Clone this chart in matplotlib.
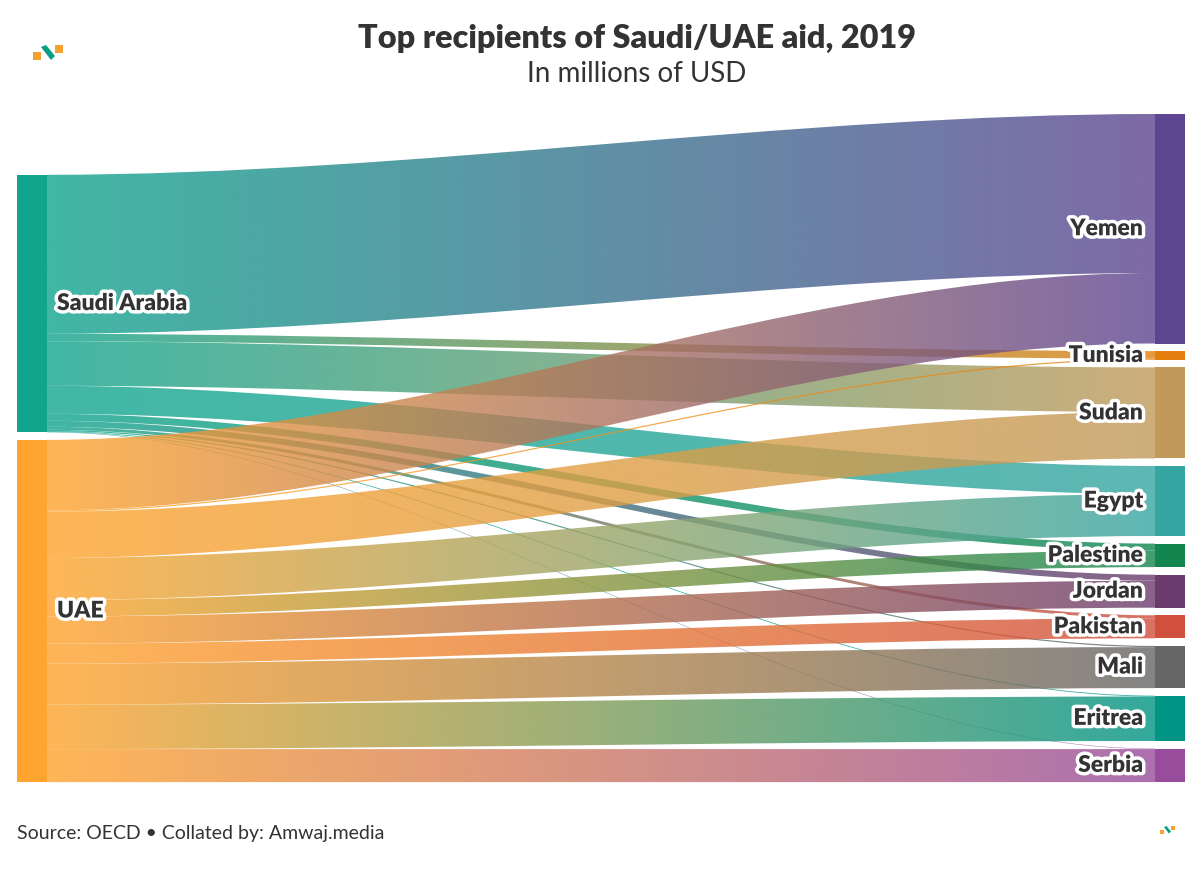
import numpy as np
import matplotlib.pyplot as plt
from matplotlib.path import Path
from matplotlib.patches import PathPatch, Rectangle, Polygon
from matplotlib.colors import to_rgb
import matplotlib.patheffects as pe

plt.rcParams['font.family'] = ['Lato', 'DejaVu Sans']

# aid in millions of USD
sources = ['Saudi Arabia', 'UAE']
targets = ['Yemen', 'Tunisia', 'Sudan', 'Egypt', 'Palestine', 'Jordan',
           'Pakistan', 'Mali', 'Eritrea', 'Serbia']
saudi_aid = [1590, 75, 445, 280, 70, 60, 30, 12, 8, 5]
uae_aid = [705, 12, 465, 420, 165, 270, 200, 410, 445, 330]

source_colors = ['#12a58e', '#ffa42e']
target_colors = ['#5d4591', '#e5800e', '#c19a5a', '#36a6a2', '#13864f',
                 '#6b3b6d', '#d14f3d', '#666666', '#009485', '#984c9c']

flows = np.array([saudi_aid, uae_aid], dtype=float)

# layout in pixels of the 1200x869 canvas
W, H = 1200, 869
scale = 0.1          # px per million USD
gap = 7.6
node_w = 30
left_x = 17
right_x = 1155
right_top = 114
curve = 0.33
link_alpha = 0.8
text_col = '#333333'

fig = plt.figure(figsize=(W / 100, H / 100), dpi=100)
ax = fig.add_axes([0, 0, 1, 1])
ax.set_xlim(0, W)
ax.set_ylim(H, 0)
ax.axis('off')

# node positions
tgt_tot = flows.sum(axis=0)
src_tot = flows.sum(axis=1)
tgt_y = []
y = right_top
for t in tgt_tot:
    tgt_y.append(y)
    y += t * scale + gap
bottom = tgt_y[-1] + tgt_tot[-1] * scale
src_y = []
y = bottom - (src_tot.sum() * scale + gap * (len(sources) - 1))
for s in src_tot:
    src_y.append(y)
    y += s * scale + gap

# links
src_off = list(src_y)
tgt_off = list(tgt_y)
x0 = left_x + node_w
x1 = right_x
cv = (x1 - x0) * curve
for i in range(len(sources)):
    for j in range(len(targets)):
        h = flows[i, j] * scale
        ys, yt = src_off[i], tgt_off[j]
        src_off[i] += h
        tgt_off[j] += h
        verts = [(x0, ys), (x0 + cv, ys), (x1 - cv, yt), (x1, yt),
                 (x1, yt + h),
                 (x1 - cv, yt + h), (x0 + cv, ys + h), (x0, ys + h),
                 (x0, ys)]
        codes = [Path.MOVETO, Path.CURVE4, Path.CURVE4, Path.CURVE4,
                 Path.LINETO,
                 Path.CURVE4, Path.CURVE4, Path.CURVE4,
                 Path.CLOSEPOLY]
        patch = PathPatch(Path(verts, codes), fc='none', ec='none', zorder=2)
        ax.add_patch(patch)
        c0 = np.array(to_rgb(source_colors[i]))
        c1 = np.array(to_rgb(target_colors[j]))
        tt = np.linspace(0, 1, 256)[:, None]
        grad = np.ones((1, 256, 4))
        grad[0, :, :3] = c0 * (1 - tt) + c1 * tt
        grad[0, :, 3] = link_alpha
        ymin = min(ys, yt) - 1
        ymax = max(ys, yt) + h + 1
        im = ax.imshow(grad, extent=(x0, x1, ymax, ymin), aspect='auto',
                       interpolation='bilinear', zorder=1)
        im.set_clip_path(patch)

ax.set_xlim(0, W)
ax.set_ylim(H, 0)

stroke = [pe.withStroke(linewidth=5, foreground='white')]

# nodes and labels
for i, name in enumerate(sources):
    hgt = src_tot[i] * scale
    ax.add_patch(Rectangle((left_x, src_y[i]), node_w, hgt, fc=source_colors[i], ec='none', zorder=3))
    ax.text(left_x + node_w + 10, src_y[i] + hgt / 2, name, ha='left', va='center',
            fontsize=16.5, fontweight='heavy', color=text_col, path_effects=stroke, zorder=5)
for j, name in enumerate(targets):
    hgt = tgt_tot[j] * scale
    ax.add_patch(Rectangle((right_x, tgt_y[j]), node_w, hgt, fc=target_colors[j], ec='none', zorder=3))
    ax.text(right_x - 12, tgt_y[j] + hgt / 2, name, ha='right', va='center',
            fontsize=16.5, fontweight='heavy', color=text_col, path_effects=stroke, zorder=5)

# titles
ax.text(637, 38, 'Top recipients of Saudi/UAE aid, 2019', ha='center', va='center',
        fontsize=23.3, fontweight='heavy', color=text_col)
ax.text(637, 74, 'In millions of USD', ha='center', va='center',
        fontsize=20, color=text_col)
ax.text(17, 834, 'Source: OECD \u2022 Collated by: Amwaj.media', ha='left', va='center',
        fontsize=14, color=text_col)


# small logo marks
def logo(x, y, s):
    ax.add_patch(Rectangle((x, y + 7 * s), 8 * s, 8 * s, fc='#f7a130', ec='none'))
    ax.add_patch(Rectangle((x + 22 * s, y), 8 * s, 8 * s, fc='#f7a130', ec='none'))
    ax.add_patch(Polygon([(x + 8 * s, y + 2 * s), (x + 13 * s, y), (x + 22 * s, y + 11 * s),
                          (x + 18 * s, y + 15 * s)], closed=True, fc='#0a9e82', ec='none'))


logo(33, 45, 1.0)
logo(1160, 826, 0.5)

fig.savefig('out.png', dpi=100, facecolor='white')
